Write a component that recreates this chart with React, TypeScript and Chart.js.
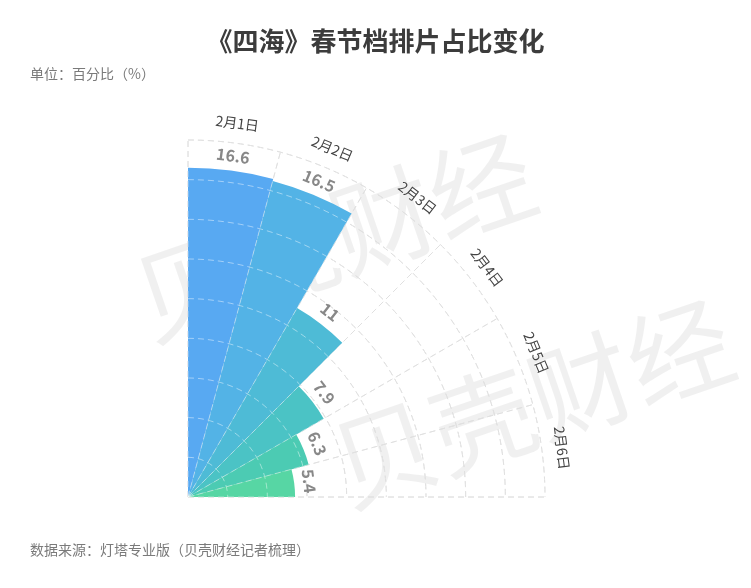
import React, { useEffect, useRef } from 'react';
import { Chart, registerables } from 'chart.js';

Chart.register(...registerables);

const categories = ['2月1日', '2月2日', '2月3日', '2月4日', '2月5日', '2月6日'];
const shares = [16.6, 16.5, 11, 7.9, 6.3, 5.4];
const barColors = ['#58a9f2', '#53b3e6', '#4ebbd6', '#4bc3c5', '#4ccbb3', '#57d6a4'];
const sectorAngles = [15, 15, 15, 15, 15, 15];
const axisMax = 18;
const axisStep = 2;

const TITLE = '《四海》春节档排片占比变化';
const UNIT = '单位：百分比（%）';
const SOURCE = '数据来源：灯塔专业版（贝壳财经记者梳理）';
const WATERMARK = '贝壳财经';

const CENTER_X = 188;
const CENTER_Y = 497;
const RADIUS = 357;
const FONT = '"Noto Sans CJK SC", "Noto Sans", sans-serif';

function drawGrid(ctx: CanvasRenderingContext2D, scale: any, color: string) {
  const cx = scale.xCenter;
  const cy = scale.yCenter;
  ctx.save();
  ctx.strokeStyle = color;
  ctx.lineWidth = 1;
  ctx.setLineDash([6, 4]);
  for (let v = axisStep; v <= axisMax + 1e-9; v += axisStep) {
    const r = scale.getDistanceFromCenterForValue(v);
    ctx.beginPath();
    ctx.arc(cx, cy, r, -Math.PI / 2, 0);
    ctx.stroke();
  }
  const outer = scale.getDistanceFromCenterForValue(axisMax);
  let a = -90;
  const bounds = [a];
  sectorAngles.forEach((s) => {
    a += s;
    bounds.push(a);
  });
  bounds.forEach((deg) => {
    const rad = (deg * Math.PI) / 180;
    ctx.beginPath();
    ctx.moveTo(cx, cy);
    ctx.lineTo(cx + outer * Math.cos(rad), cy + outer * Math.sin(rad));
    ctx.stroke();
  });
  ctx.restore();
}

const polarDeco = {
  id: 'polarDeco',
  beforeDatasetsDraw(chart: any) {
    const ctx = chart.ctx as CanvasRenderingContext2D;
    const scale = chart.scales.r;
    // watermark
    const marks = [
      [150, 342],
      [348, 508],
    ];
    marks.forEach(([x, y]) => {
      ctx.save();
      ctx.fillStyle = 'rgba(0,0,0,0.06)';
      ctx.font = `104px ${FONT}`;
      ctx.textBaseline = 'alphabetic';
      ctx.translate(x, y);
      ctx.rotate((-19 * Math.PI) / 180);
      ctx.fillText(WATERMARK, 0, 0);
      ctx.restore();
    });
    drawGrid(ctx, scale, '#c8c8c8');
  },
  afterDatasetsDraw(chart: any) {
    const ctx = chart.ctx as CanvasRenderingContext2D;
    const scale = chart.scales.r;
    drawGrid(ctx, scale, 'rgba(255,255,255,0.45)');
    const cx = scale.xCenter;
    const cy = scale.yCenter;
    const meta = chart.getDatasetMeta(0);
    const outer = scale.getDistanceFromCenterForValue(axisMax);
    meta.data.forEach((arc: any, i: number) => {
      const p = arc.getProps(['startAngle', 'endAngle', 'outerRadius'], true);
      const mid = (p.startAngle + p.endAngle) / 2;
      // value label
      const rv = p.outerRadius + 15;
      ctx.save();
      ctx.translate(cx + rv * Math.cos(mid), cy + rv * Math.sin(mid));
      ctx.rotate(mid + Math.PI / 2);
      ctx.font = `bold 16px ${FONT}`;
      ctx.fillStyle = '#888888';
      ctx.textAlign = 'center';
      ctx.textBaseline = 'middle';
      ctx.fillText(String(shares[i]), 0, 0);
      ctx.restore();
      // category label
      const rc = outer + 20;
      ctx.save();
      ctx.translate(cx + rc * Math.cos(mid), cy + rc * Math.sin(mid));
      ctx.rotate(mid + Math.PI / 2);
      ctx.font = `14px ${FONT}`;
      ctx.fillStyle = '#444444';
      ctx.textAlign = 'center';
      ctx.textBaseline = 'middle';
      ctx.fillText(categories[i], 0, 0);
      ctx.restore();
    });
  },
};

export default function App() {
  const ref = useRef<HTMLCanvasElement | null>(null);
  useEffect(() => {
    if (!ref.current) return;
    const chart = new Chart(ref.current, {
      type: 'polarArea',
      data: {
        labels: categories,
        datasets: [
          {
            data: shares,
            backgroundColor: barColors,
            borderWidth: 0,
            angle: sectorAngles,
          } as any,
        ],
      },
      options: {
        responsive: false,
        animation: false,
        events: [],
        plugins: {
          legend: { display: false },
          tooltip: { enabled: false },
        },
        scales: {
          r: {
            min: 0,
            max: axisMax,
            startAngle: 0,
            ticks: { display: false, stepSize: axisStep },
            grid: { display: false },
            angleLines: { display: false },
            pointLabels: { display: false },
            afterFit: (scale: any) => {
              scale.xCenter = CENTER_X;
              scale.yCenter = CENTER_Y;
              scale.drawingArea = RADIUS;
            },
          } as any,
        },
      },
      plugins: [polarDeco],
    });
    return () => chart.destroy();
  }, []);

  return (
    <div style={{ position: 'absolute', left: 0, top: 0, width: 751, height: 588, background: '#fff', overflow: 'hidden' }}>
      <canvas ref={ref} width={751} height={588} style={{ position: 'absolute', left: 0, top: 0, width: 751, height: 588 }} />
      <div
        style={{
          position: 'absolute',
          left: 0,
          width: 751,
          top: 22,
          height: 36,
          lineHeight: '36px',
          textAlign: 'center',
          fontFamily: FONT,
          fontWeight: 'bold',
          fontSize: 26,
          color: '#3c3c3c',
        }}
      >
        {TITLE}
      </div>
      <div
        style={{
          position: 'absolute',
          left: 30,
          top: 63,
          height: 20,
          lineHeight: '20px',
          fontFamily: FONT,
          fontSize: 14,
          color: '#7a7a7a',
          whiteSpace: 'nowrap',
        }}
      >
        {UNIT}
      </div>
      <div
        style={{
          position: 'absolute',
          left: 30,
          top: 539,
          height: 20,
          lineHeight: '20px',
          fontFamily: FONT,
          fontSize: 14,
          color: '#7a7a7a',
          whiteSpace: 'nowrap',
        }}
      >
        {SOURCE}
      </div>
    </div>
  );
}
